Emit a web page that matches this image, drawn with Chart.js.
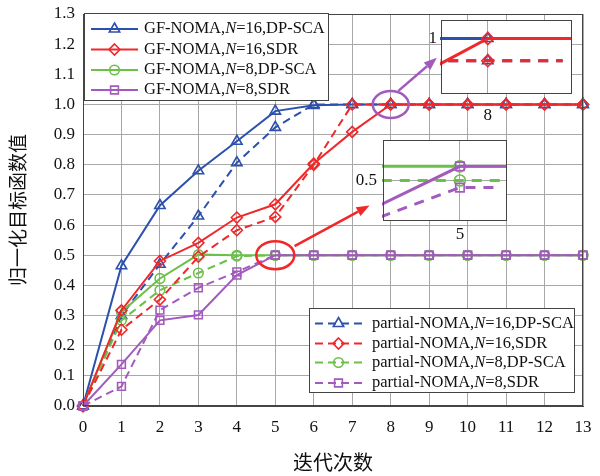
<!DOCTYPE html>
<html>
<head>
<meta charset="utf-8">
<script src="https://cdn.jsdelivr.net/npm/chart.js@4.4.1/dist/chart.umd.min.js"></script>
<style>
  body { margin: 0; background: #fff; }
  #wrap { position: relative; width: 600px; height: 476px; }
  #wrap canvas { position: absolute; }
</style>
</head>
<body>
<div id="wrap">
  <canvas id="main" width="600" height="476" style="left:0;top:0"></canvas>
  <canvas id="zoomTop" width="151" height="105" style="left:421px;top:20px"></canvas>
  <canvas id="zoomMid" width="154" height="106" style="left:353px;top:140px"></canvas>
</div>
<script>
// iterations on the x axis
var iterations = [0, 1, 2, 3, 4, 5, 6, 7, 8, 9, 10, 11, 12, 13];

// normalised objective
var gfN16Dp      = [0, 0.465, 0.665, 0.780, 0.878, 0.978, 0.997, 1, 1, 1, 1, 1, 1, 1];
var gfN16Sdr     = [0, 0.317, 0.481, 0.541, 0.625, 0.669, 0.804, 0.909, 1, 1, 1, 1, 1, 1];
var gfN8Dp       = [0, 0.312, 0.423, 0.502, 0.5, 0.5, 0.5, 0.5, 0.5, 0.5, 0.5, 0.5, 0.5, 0.5];
var gfN8Sdr      = [0, 0.138, 0.284, 0.302, 0.434, 0.5, 0.5, 0.5, 0.5, 0.5, 0.5, 0.5, 0.5, 0.5];
var partN16Dp    = [0, 0.300, 0.470, 0.630, 0.807, 0.924, 1, 1, 1, 1, 1, 1, 1, 1];
var partN16Sdr   = [0, 0.253, 0.353, 0.495, 0.583, 0.627, 0.800, 1, 1, 1, 1, 1, 1, 1];
var partN8Dp     = [0, 0.284, 0.384, 0.441, 0.497, 0.5, 0.5, 0.5, 0.5, 0.5, 0.5, 0.5, 0.5, 0.5];
var partN8Sdr    = [0, 0.065, 0.318, 0.392, 0.445, 0.5, 0.5, 0.5, 0.5, 0.5, 0.5, 0.5, 0.5, 0.5];

var gfNames = ['GF-NOMA,N=16,DP-SCA', 'GF-NOMA,N=16,SDR', 'GF-NOMA,N=8,DP-SCA', 'GF-NOMA,N=8,SDR'];
var partNames = ['partial-NOMA,N=16,DP-SCA', 'partial-NOMA,N=16,SDR', 'partial-NOMA,N=8,DP-SCA', 'partial-NOMA,N=8,SDR'];

// zoomed inset near iteration 8 (level 1)
var zoomTopX      = [7, 8, 9];
var zoomTopDashX  = [7, 8, 8.8];
var zoomTopGfDp   = [1, 1, 1];
var zoomTopGfSdr  = [0.973, 1, 1];
var zoomTopPart   = [0.988, 0.988, 0.988];

// zoomed inset near iteration 5 (level 0.5)
var zoomMidX        = [4, 5, 6];
var zoomMidDashX    = [4, 5, 5.42];
var zoomMidGfDp     = [0.514, 0.514, 0.514];
var zoomMidPartDp   = [0.5, 0.5, 0.5];
var zoomMidGfSdr    = [0.468, 0.514, 0.514];
var zoomMidPartSdr  = [0.458, 0.493, 0.493];

var BLUE = '#2c50ad', RED = '#f0282a', GREEN = '#6cbf48', PURPLE = '#a25bbd';
var SERIF = '"Liberation Serif", "Times New Roman", serif';
var CJK = '"Noto Sans CJK SC", sans-serif';
var GRID = '#a8a8a8', FRAME = '#444';

var styles = [
    { color: BLUE, marker: 'triangle', radius: 6 },
    { color: RED, marker: 'rectRot', radius: 5.5 },
    { color: GREEN, marker: 'circle', radius: 4.8 },
    { color: PURPLE, marker: 'rect', radius: 5.5 }
];

function pts(xs, ys) {
    return ys.map(function (y, i) { return { x: xs[i], y: y }; });
}

function series(label, xs, ys, st, dashed, order, opts) {
    opts = opts || {};
    return {
        label: label,
        data: pts(xs, ys),
        borderColor: st.color,
        borderWidth: opts.width || 2,
        borderDash: dashed ? (opts.dash || [8, 5]) : [],
        pointStyle: st.marker,
        pointRadius: opts.radius !== undefined ? opts.radius : st.radius,
        pointBorderWidth: 1.6,
        pointBorderColor: st.color,
        pointBackgroundColor: 'rgba(255,255,255,0)',
        fill: false,
        tension: 0,
        order: order,
        clip: opts.clip !== undefined ? opts.clip : false
    };
}

function drawMarker(ctx, st, x, y) {
    ctx.save();
    ctx.setLineDash([]);
    ctx.strokeStyle = st.color;
    ctx.lineWidth = 1.6;
    var r = st.radius;
    ctx.beginPath();
    if (st.marker === 'triangle') {
        ctx.moveTo(x, y - r);
        ctx.lineTo(x + r * 0.866, y + r * 0.5);
        ctx.lineTo(x - r * 0.866, y + r * 0.5);
        ctx.closePath();
    } else if (st.marker === 'rectRot') {
        ctx.moveTo(x, y - r);
        ctx.lineTo(x + r, y);
        ctx.lineTo(x, y + r);
        ctx.lineTo(x - r, y);
        ctx.closePath();
    } else if (st.marker === 'circle') {
        ctx.arc(x, y, r, 0, Math.PI * 2);
    } else {
        var s = r * Math.SQRT1_2;
        ctx.rect(x - s, y - s, 2 * s, 2 * s);
    }
    ctx.stroke();
    ctx.restore();
}

function drawName(ctx, text, x, y) {
    var parts = text.split('N=');
    ctx.font = '16.5px ' + SERIF;
    ctx.fillStyle = '#111';
    ctx.textBaseline = 'middle';
    ctx.textAlign = 'left';
    ctx.fillText(parts[0], x, y);
    x += ctx.measureText(parts[0]).width;
    ctx.font = 'italic 16.5px ' + SERIF;
    ctx.fillText('N', x, y);
    x += ctx.measureText('N').width;
    ctx.font = '16.5px ' + SERIF;
    ctx.fillText('=' + parts[1], x, y);
}

function drawLegendBox(ctx, box, names, dashed) {
    ctx.save();
    ctx.fillStyle = '#fff';
    ctx.fillRect(box.x, box.y, box.w, box.h);
    ctx.strokeStyle = FRAME;
    ctx.lineWidth = 1;
    ctx.strokeRect(box.x + 0.5, box.y + 0.5, box.w, box.h);
    names.forEach(function (name, i) {
        var y = box.rows[i];
        var st = styles[i];
        ctx.strokeStyle = st.color;
        ctx.lineWidth = 2;
        ctx.setLineDash(dashed ? [8, 5] : []);
        ctx.beginPath();
        ctx.moveTo(box.lineX0, y);
        ctx.lineTo(box.lineX1, y);
        ctx.stroke();
        drawMarker(ctx, st, (box.lineX0 + box.lineX1) / 2, y);
        drawName(ctx, name, box.textX, y);
    });
    ctx.restore();
}

function arrow(ctx, x0, y0, x1, y1, color) {
    var a = Math.atan2(y1 - y0, x1 - x0);
    var len = 13, half = 5;
    var bx = x1 - len * Math.cos(a), by = y1 - len * Math.sin(a);
    ctx.strokeStyle = color;
    ctx.fillStyle = color;
    ctx.lineWidth = 2.5;
    ctx.beginPath();
    ctx.moveTo(x0, y0);
    ctx.lineTo(bx, by);
    ctx.stroke();
    ctx.beginPath();
    ctx.moveTo(x1, y1);
    ctx.lineTo(bx + half * Math.sin(a), by - half * Math.cos(a));
    ctx.lineTo(bx - half * Math.sin(a), by + half * Math.cos(a));
    ctx.closePath();
    ctx.fill();
}

// callouts: ellipse centre and arrow ends in data units
var callouts = [
    { color: RED, center: [5, 0.5], rx: 19, ry: 14, from: [5.5, 0.53], to: [7.45, 0.665] },
    { color: PURPLE, center: [8, 1.0], rx: 18, ry: 13.5, from: [8.2, 1.045], to: [9.2, 1.155] }
];

var framePlugin = {
    id: 'frame',
    beforeDraw: function (chart) {
        var a = chart.chartArea, ctx = chart.ctx;
        ctx.save();
        ctx.fillStyle = '#fff';
        ctx.fillRect(a.left, a.top, a.right - a.left, a.bottom - a.top);
        ctx.restore();
    },
    afterDraw: function (chart) {
        var a = chart.chartArea, ctx = chart.ctx;
        ctx.save();
        ctx.strokeStyle = FRAME;
        ctx.lineWidth = 1;
        ctx.strokeRect(Math.round(a.left) + 0.5, Math.round(a.top) + 0.5,
            Math.round(a.right - a.left) - 1, Math.round(a.bottom - a.top) - 1);
        ctx.restore();
    }
};

var mainExtras = {
    id: 'mainExtras',
    afterDraw: function (chart) {
        var ctx = chart.ctx, xs = chart.scales.x, ys = chart.scales.y;
        ctx.save();
        callouts.forEach(function (c) {
            ctx.strokeStyle = c.color;
            ctx.lineWidth = 2.5;
            ctx.setLineDash([]);
            ctx.beginPath();
            ctx.ellipse(xs.getPixelForValue(c.center[0]), ys.getPixelForValue(c.center[1]), c.rx, c.ry, 0, 0, Math.PI * 2);
            ctx.stroke();
            arrow(ctx, xs.getPixelForValue(c.from[0]), ys.getPixelForValue(c.from[1]),
                xs.getPixelForValue(c.to[0]), ys.getPixelForValue(c.to[1]), c.color);
        });
        drawLegendBox(ctx, { x: 84, y: 13, w: 244, h: 87, rows: [29, 49.5, 70, 90], lineX0: 91, lineX1: 138, textX: 144 }, gfNames, false);
        drawLegendBox(ctx, { x: 309, y: 308, w: 265, h: 84, rows: [323.5, 343.5, 362.5, 383], lineX0: 315, lineX1: 362, textX: 372 }, partNames, true);
        ctx.restore();
    }
};

new Chart(document.getElementById('main'), {
    type: 'line',
    data: {
        datasets: [
            series(gfNames[0], iterations, gfN16Dp, styles[0], false, 6),
            series(partNames[0], iterations, partN16Dp, styles[0], true, 7),
            series(gfNames[1], iterations, gfN16Sdr, styles[1], false, 2),
            series(partNames[1], iterations, partN16Sdr, styles[1], true, 3),
            series(gfNames[2], iterations, gfN8Dp, styles[2], false, 4),
            series(partNames[2], iterations, partN8Dp, styles[2], true, 5),
            series(gfNames[3], iterations, gfN8Sdr, styles[3], false, 0),
            series(partNames[3], iterations, partN8Sdr, styles[3], true, 1)
        ]
    },
    options: {
        responsive: false,
        animation: false,
        devicePixelRatio: 1,
        layout: { padding: { top: 14, right: 17, left: 0, bottom: 0 } },
        plugins: { legend: { display: false }, tooltip: { enabled: false } },
        scales: {
            x: {
                type: 'linear', min: 0, max: 13,
                ticks: { stepSize: 1, padding: 11, color: '#111', font: { family: SERIF, size: 17 } },
                grid: { color: GRID, drawTicks: false },
                border: { color: FRAME },
                title: { display: true, text: '迭代次数', color: '#111', font: { family: CJK, size: 20 }, padding: { top: 0, bottom: 2 } },
                afterFit: function (s) { s.height = 70; s.paddingLeft = 0; s.paddingRight = 0; }
            },
            y: {
                type: 'linear', min: 0, max: 1.3,
                ticks: { stepSize: 0.1, padding: 8, color: '#111', font: { family: SERIF, size: 17 },
                    callback: function (v) { return v.toFixed(1); } },
                grid: { color: GRID, drawTicks: false },
                border: { color: FRAME },
                title: { display: true, text: '归一化目标函数值', color: '#111', font: { family: CJK, size: 19 }, padding: { top: 6, bottom: 0 } },
                afterFit: function (s) { s.width = 83; s.paddingTop = 0; s.paddingBottom = 0; }
            }
        }
    },
    plugins: [framePlugin, mainExtras]
});

function insetOptions(xr, yr, xTick, yTick, yWidth, xHeight, yPad, xPad) {
    return {
        responsive: false,
        animation: false,
        devicePixelRatio: 1,
        layout: { padding: 0 },
        plugins: { legend: { display: false }, tooltip: { enabled: false } },
        scales: {
            x: {
                type: 'linear', min: xr[0], max: xr[1],
                afterBuildTicks: function (s) { s.ticks = [{ value: xTick }]; },
                ticks: { padding: xPad, color: '#111', font: { family: SERIF, size: 17 }, callback: function (v) { return String(v); } },
                grid: { color: GRID, drawTicks: false },
                border: { display: false },
                afterFit: function (s) { s.height = xHeight; s.paddingLeft = 0; s.paddingRight = 0; }
            },
            y: {
                type: 'linear', min: yr[0], max: yr[1],
                afterBuildTicks: function (s) { s.ticks = [{ value: yTick }]; },
                ticks: { padding: yPad, color: '#111', font: { family: SERIF, size: 17 }, callback: function (v) { return String(v); } },
                grid: { color: GRID, drawTicks: false },
                border: { display: false },
                afterFit: function (s) { s.width = yWidth; s.paddingTop = 0; s.paddingBottom = 0; }
            }
        }
    };
}

new Chart(document.getElementById('zoomTop'), {
    type: 'line',
    data: {
        datasets: [
            series('a', zoomTopX, zoomTopGfDp, styles[0], false, 3, { width: 3, radius: [0, 6, 0], clip: 1 }),
            series('b', zoomTopDashX, zoomTopPart, styles[0], true, 2, { width: 3, dash: [10, 8], radius: [0, 6, 0], clip: 1 }),
            series('c', zoomTopX, zoomTopGfSdr, styles[1], false, 1, { width: 3, radius: [0, 6, 0], clip: 1 }),
            series('d', zoomTopDashX, zoomTopPart, styles[1], true, 0, { width: 3, dash: [10, 8], radius: [0, 6, 0], clip: 1 })
        ]
    },
    options: insetOptions([7.5, 8.9], [0.97, 1.01], 8, 1, 20, 31, 4, 11),
    plugins: [framePlugin]
});

new Chart(document.getElementById('zoomMid'), {
    type: 'line',
    data: {
        datasets: [
            series('a', zoomMidX, zoomMidGfDp, styles[2], false, 3, { width: 3, radius: [0, 5.5, 0], clip: 1 }),
            series('b', zoomMidDashX, zoomMidPartDp, styles[2], true, 2, { width: 3, dash: [10, 8], radius: [0, 5.5, 0], clip: 1 }),
            series('c', zoomMidX, zoomMidGfSdr, styles[3], false, 1, { width: 3, radius: [0, 6, 0], clip: 1 }),
            series('d', zoomMidDashX, zoomMidPartSdr, styles[3], true, 0, { width: 3, dash: [10, 8], radius: [0, 6, 0], clip: 1 })
        ]
    },
    options: insetOptions([4.2, 5.49], [0.46, 0.54], 5, 0.5, 30, 25, 6, 3),
    plugins: [framePlugin]
});
</script>
</body>
</html>
